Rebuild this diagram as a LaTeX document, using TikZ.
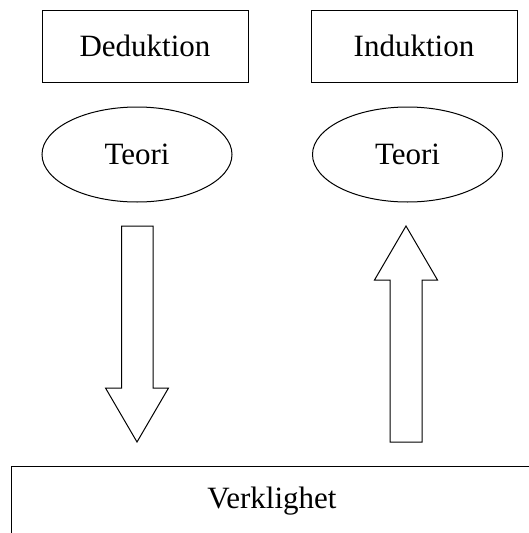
\documentclass[tikz,border=0pt]{standalone}
\usepackage{fontspec}
\setmainfont{Liberation Serif}
\usetikzlibrary{shapes.geometric}
\begin{document}
\begin{tikzpicture}[x=1pt,y=-1pt,line width=1pt,
  lbl/.style={font=\fontsize{31}{36}\selectfont},
  topbox/.style={draw,rectangle,lbl,minimum width=206pt,minimum height=72pt,inner sep=0pt},
  teori/.style={draw,ellipse,lbl,minimum width=190pt,minimum height=95pt,inner sep=0pt},
  bigarrow/.style={draw,line join=miter}]
\useasboundingbox (0,0) rectangle (529,533);
\clip (0,0) rectangle (529,533);
\node[topbox] (ded) at (145,46) {Deduktion};
\node[topbox] (ind) at (414,46) {Induktion};
\node[teori] (t1) at (137,154.5) {Teori};
\node[teori] (t2) at (407.5,154.5) {Teori};
\draw[bigarrow] (121.5,226) -- (153,226) -- (153,388) -- (168.5,388) -- (137,442) -- (105.5,388) -- (121.5,388) -- cycle;
\draw[bigarrow] (406,226) -- (437.5,280) -- (422,280) -- (422,442) -- (390,442) -- (390,280) -- (374.5,280) -- cycle;
\node[draw,rectangle,lbl,minimum width=522pt,minimum height=70pt,inner sep=0pt] (verk) at (272,501) {Verklighet};
\end{tikzpicture}
\end{document}
